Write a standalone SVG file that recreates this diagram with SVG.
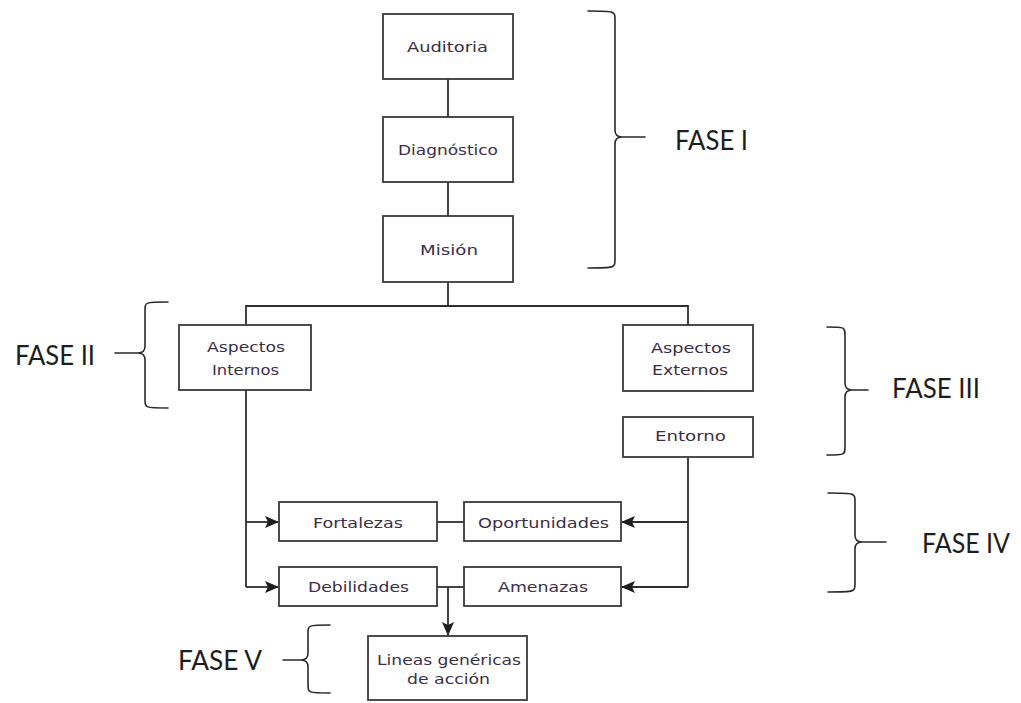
<svg xmlns="http://www.w3.org/2000/svg" width="1021" height="703" viewBox="0 0 1021 703">
  <style>
    .box { fill: #ffffff; stroke: #3a3a3a; stroke-width: 1.8; }
    .lbl { font-family: "DejaVu Sans", sans-serif; font-size: 13.5px; fill: #3b2f47; text-anchor: start; }
    .line { fill: none; stroke: #2e2e2e; stroke-width: 1.8; }
    .brace { fill: none; stroke: #2a2a2a; stroke-width: 1.6; stroke-linejoin: round; stroke-linecap: round; }
    .phase { font-family: Lato, "Liberation Sans", sans-serif; font-size: 27px; fill: #1e1e1e; }
  </style>
  <defs>
    <marker id="arrow" markerWidth="14" markerHeight="12" refX="13" refY="6" orient="auto" markerUnits="userSpaceOnUse">
      <path d="M0,0 L14,6 L0,12 L3,6 Z" fill="#1e1e1e"/>
    </marker>
  </defs>
  <rect width="1021" height="703" fill="#ffffff"/>

  <!-- connectors -->
  <g id="connectors">
    <path class="line" d="M448,79 V117"/>
    <path class="line" d="M448,182 V216"/>
    <path class="line" d="M448,282 V306"/>
    <path class="line" d="M246,325 V306 H688 V325"/>
    <path class="line" d="M246,390 V587"/>
    <path class="line" d="M246,522 H278" marker-end="url(#arrow)"/>
    <path class="line" d="M246,587 H278" marker-end="url(#arrow)"/>
    <path class="line" d="M688,457 V587"/>
    <path class="line" d="M688,522 H622" marker-end="url(#arrow)"/>
    <path class="line" d="M688,587 H622" marker-end="url(#arrow)"/>
    <path class="line" d="M437,522 H464"/>
    <path class="line" d="M437,587 H464"/>
    <path class="line" d="M448,587 V635" marker-end="url(#arrow)"/>
  </g>

  <!-- nodes -->
  <g id="auditoria">
    <rect class="box" x="383" y="14" width="130" height="65"/>
    <text class="lbl" x="407" y="52" textLength="81" lengthAdjust="spacingAndGlyphs">Auditoria</text>
  </g>
  <g id="diagnostico">
    <rect class="box" x="383" y="117" width="130" height="65"/>
    <text class="lbl" x="398" y="155" textLength="100" lengthAdjust="spacingAndGlyphs">Diagnóstico</text>
  </g>
  <g id="mision">
    <rect class="box" x="383" y="216" width="130" height="66"/>
    <text class="lbl" x="420" y="255" textLength="58" lengthAdjust="spacingAndGlyphs">Misión</text>
  </g>
  <g id="aspectos-internos">
    <rect class="box" x="179" y="325" width="132" height="65"/>
    <text class="lbl" x="207" y="352" textLength="78" lengthAdjust="spacingAndGlyphs">Aspectos</text>
    <text class="lbl" x="212" y="375" textLength="67" lengthAdjust="spacingAndGlyphs">Internos</text>
  </g>
  <g id="aspectos-externos">
    <rect class="box" x="623" y="325" width="130" height="66"/>
    <text class="lbl" x="651" y="353" textLength="80" lengthAdjust="spacingAndGlyphs">Aspectos</text>
    <text class="lbl" x="652" y="375" textLength="76" lengthAdjust="spacingAndGlyphs">Externos</text>
  </g>
  <g id="entorno">
    <rect class="box" x="623" y="417" width="130" height="40"/>
    <text class="lbl" x="655" y="441" textLength="71" lengthAdjust="spacingAndGlyphs">Entorno</text>
  </g>
  <g id="fortalezas">
    <rect class="box" x="279" y="502" width="158" height="39"/>
    <text class="lbl" x="313" y="528" textLength="90" lengthAdjust="spacingAndGlyphs">Fortalezas</text>
  </g>
  <g id="oportunidades">
    <rect class="box" x="464" y="502" width="157" height="39"/>
    <text class="lbl" x="478" y="528" textLength="131" lengthAdjust="spacingAndGlyphs">Oportunidades</text>
  </g>
  <g id="debilidades">
    <rect class="box" x="279" y="567" width="158" height="39"/>
    <text class="lbl" x="308" y="592" textLength="101" lengthAdjust="spacingAndGlyphs">Debilidades</text>
  </g>
  <g id="amenazas">
    <rect class="box" x="464" y="567" width="157" height="39"/>
    <text class="lbl" x="498" y="592" textLength="90" lengthAdjust="spacingAndGlyphs">Amenazas</text>
  </g>
  <g id="lineas">
    <rect class="box" x="368" y="636" width="159" height="64"/>
    <text class="lbl" x="377" y="665" textLength="144" lengthAdjust="spacingAndGlyphs">Lineas genéricas</text>
    <text class="lbl" x="407" y="684" textLength="83" lengthAdjust="spacingAndGlyphs">de acción</text>
  </g>

  <!-- phase braces and labels -->
  <g id="fase-1">
    <path class="brace" d="M588,11 C615,11 615,11 615,20 L615,130 Q615,137 622,137 L645,137 M622,137 Q615,137 615,144 L615,259 C615,268 615,268 588,268"/>
    <text class="phase" x="675" y="150" textLength="73" lengthAdjust="spacingAndGlyphs">FASE I</text>
  </g>
  <g id="fase-2">
    <path class="brace" d="M168,302 C145,302 145,302 145,311 L145,346 Q145,353 138,353 L115,353 M138,353 Q145,353 145,360 L145,399 C145,408 145,408 168,408"/>
    <text class="phase" x="15" y="365" textLength="80" lengthAdjust="spacingAndGlyphs">FASE II</text>
  </g>
  <g id="fase-3">
    <path class="brace" d="M827,327 C845,327 845,327 845,336 L845,383 Q845,390 852,390 L868,390 M852,390 Q845,390 845,397 L845,446 C845,455 845,455 827,455"/>
    <text class="phase" x="892" y="398" textLength="88" lengthAdjust="spacingAndGlyphs">FASE III</text>
  </g>
  <g id="fase-4">
    <path class="brace" d="M828,493 C855,493 855,493 855,502 L855,535 Q855,542 862,542 L886,542 M862,542 Q855,542 855,549 L855,583 C855,592 855,592 828,592"/>
    <text class="phase" x="922" y="553" textLength="88" lengthAdjust="spacingAndGlyphs">FASE IV</text>
  </g>
  <g id="fase-5">
    <path class="brace" d="M330,625 C308,625 308,625 308,634 L308,653 Q308,660 301,660 L283,660 M301,660 Q308,660 308,667 L308,684 C308,693 308,693 330,693"/>
    <text class="phase" x="178" y="670" textLength="84" lengthAdjust="spacingAndGlyphs">FASE V</text>
  </g>
</svg>
